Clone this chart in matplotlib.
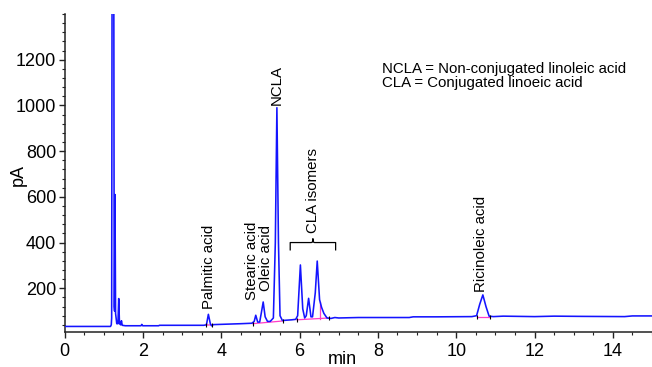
import matplotlib
matplotlib.use("Agg")
import matplotlib.pyplot as plt
from matplotlib.ticker import MultipleLocator

plt.rcParams['font.family'] = ['Liberation Sans', 'DejaVu Sans']

# Chromatogram trace (time in min, signal in pA)
time_min = [0.0, 1.17, 1.19, 1.20, 1.21, 1.255, 1.265, 1.275, 1.285, 1.30, 1.33,
            1.36, 1.38, 1.40, 1.43, 1.45, 1.47, 1.55, 1.95, 1.97, 1.99, 2.40,
            2.42, 3.55, 3.62, 3.67, 3.72, 3.75, 3.80, 4.50, 4.78, 4.84, 4.88,
            4.93, 4.98, 5.02, 5.07, 5.12, 5.18, 5.25, 5.33, 5.38, 5.42, 5.46,
            5.50, 5.56, 5.80, 5.90, 5.95, 6.02, 6.08, 6.13, 6.17, 6.23, 6.29,
            6.33, 6.40, 6.45, 6.51, 6.56, 6.62, 6.70, 6.80, 6.90, 7.00, 7.50,
            8.80, 8.90, 9.50, 10.40, 10.52, 10.60, 10.68, 10.76, 10.84, 10.95,
            11.20, 12.00, 12.50, 13.20, 14.30, 14.50, 15.00]
signal_pA = [33, 33, 40, 70, 1500, 1500, 120, 100, 610, 90, 45,
             45, 155, 45, 40, 58, 38, 36, 36, 42, 36, 36,
             38, 38, 40, 86, 45, 36, 41, 45, 47, 55, 82,
             52, 52, 90, 140, 75, 55, 55, 70, 400, 990, 400,
             80, 59, 62, 64, 80, 302, 110, 70, 80, 156, 75,
             75, 180, 319, 150, 117, 90, 70, 68, 72, 70, 72,
             72, 75, 75, 76, 80, 130, 171, 120, 78, 76,
             78, 76, 78, 77, 76, 79, 79]

# Integration baselines (magenta) as (t_start, y_start, t_end, y_end)
base_t0 = [3.62, 4.80, 5.93, 10.52]
base_y0 = [39, 45, 62, 76]
base_t1 = [3.76, 5.58, 6.75, 10.85]
base_y1 = [40, 57, 70, 76]
drop_t = [6.51]
drop_y0 = [67]
drop_y1 = [140]

# Peak labels
label_text = ["Palmitic acid", "Stearic acid", "Oleic acid", "NCLA",
              "CLA isomers", "Ricinoleic acid"]
label_t = [3.69, 4.78, 5.13, 5.42, 6.33, 10.62]
label_y = [110, 148, 190, 1000, 440, 185]

# Bracket for CLA isomers
bracket_t = [5.76, 6.92]
bracket_y = [368, 400, 416]

legend_lines = ["NCLA = Non-conjugated linoleic acid", "CLA = Conjugated linoeic acid"]

fig = plt.figure(figsize=(6.52, 3.67), dpi=100)
ax = fig.add_axes([0.0992, 0.0962, 0.9008, 0.8657])

ax.plot(time_min, signal_pA, color='#1414ff', lw=1.15, zorder=3)

for t0, y0, t1, y1 in zip(base_t0, base_y0, base_t1, base_y1):
    ax.plot([t0, t1], [y0, y1], color='#ff3cc8', lw=0.9, zorder=2)
    ax.plot([t0, t1], [y0, y1], ls='none', marker='|', ms=3, mew=0.8,
            color='black', zorder=4)
for t, y0, y1 in zip(drop_t, drop_y0, drop_y1):
    ax.plot([t, t], [y0, y1], color='#ff3cc8', lw=0.9, zorder=2)

for txt, t, y in zip(label_text, label_t, label_y):
    ax.text(t, y, txt, rotation=90, ha='center', va='bottom', fontsize=10.8)

# bracket
bl, br = bracket_t
ylo, ymid, ytop = bracket_y
bc = (bl + br) / 2
ax.plot([bl, bl, bc - 0.04, bc, bc, bc, bc + 0.04, br, br],
        [ylo, ymid, ymid, ymid + 4, ytop, ymid + 4, ymid, ymid, ylo],
        color='black', lw=0.9)

ax.text(8.11, 1161, legend_lines[0], ha='left', va='center', fontsize=10.8)
ax.text(8.11, 1097, legend_lines[1], ha='left', va='center', fontsize=10.8)

ax.set_xlim(0, 15)
ax.set_ylim(10, 1400)
ax.xaxis.set_major_locator(MultipleLocator(2))
ax.xaxis.set_minor_locator(MultipleLocator(0.5))
ax.yaxis.set_major_locator(MultipleLocator(200))
ax.yaxis.set_minor_locator(MultipleLocator(40))
ax.set_yticks([200, 400, 600, 800, 1000, 1200])

for s in ['top', 'right']:
    ax.spines[s].set_visible(False)
for s in ['left', 'bottom']:
    ax.spines[s].set_linewidth(1.1)
    ax.spines[s].set_color('#222222')

ax.tick_params(which='major', direction='out', length=4, width=1.0,
               labelsize=13, color='#222222')
ax.tick_params(which='minor', direction='out', length=2.2, width=0.8,
               color='#222222')
ax.tick_params(axis='x', which='major', pad=4)
ax.tick_params(axis='y', which='major', pad=2)

ax.set_xlabel('min', fontsize=13)
ax.set_ylabel('pA', fontsize=13)
ax.xaxis.set_label_coords(0.473, -0.089)
ax.xaxis.label.set_va('center')
ax.yaxis.set_label_coords(-0.0795, 0.493)
ax.yaxis.label.set_va('center')

fig.savefig('out.png', dpi=100)
